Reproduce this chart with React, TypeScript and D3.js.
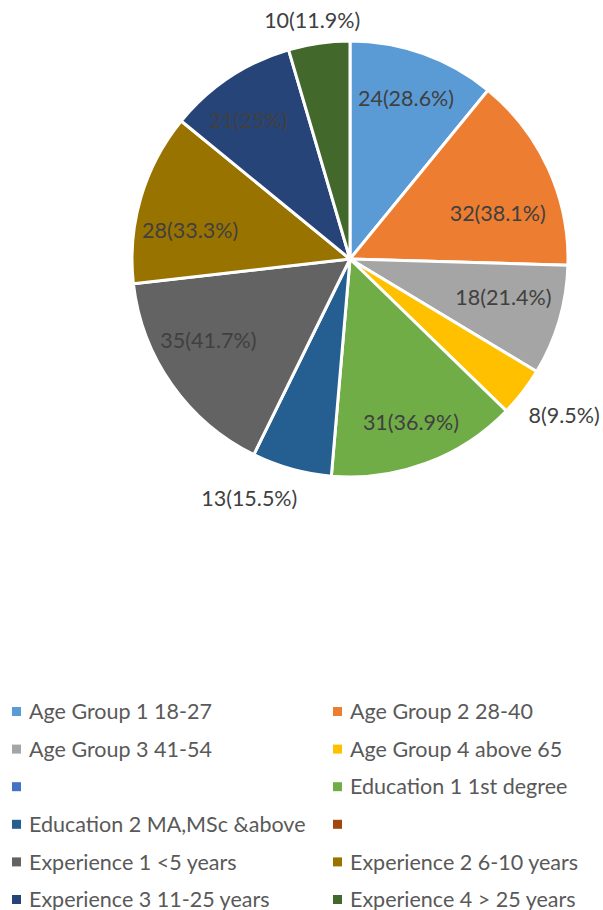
import React from "react";
import * as d3 from "d3";

const categories = [
  "Age Group 1 18-27",
  "Age Group 2 28-40",
  "Age Group 3 41-54",
  "Age Group 4 above 65",
  "",
  "Education 1 1st degree",
  "Education 2 MA,MSc &above",
  "",
  "Experience 1 <5 years",
  "Experience 2 6-10 years",
  "Experience 3 11-25 years",
  "Experience 4 > 25 years",
];
const values = [24, 32, 18, 8, 0, 31, 13, 0, 35, 28, 21, 10];
const sampleSize = 84;
const colors = [
  "#5B9BD5", "#ED7D31", "#A5A5A5", "#FFC000", "#4472C4", "#70AD47",
  "#255E91", "#9E480E", "#636363", "#997300", "#264478", "#43682B",
];

const W = 603;
const H = 910;
const CX = 350;
const CY = 259;
const R = 218;
const FONT = "Lato, 'Open Sans', sans-serif";
const LABEL_FS = 21.5;
const LEGEND_FS = 21.5;

// "best fit" label placement tweaks: [angle offset in degrees, radius as fraction of R]
const labelFit: Record<number, [number, number]> = {
  0: [-0.4, 0.78],
  1: [7.2, 0.71],
  2: [-2.4, 0.725],
  3: [-1.6, 1.215],
  5: [0, 0.8],
  6: [7.3, 1.19],
  8: [5.2, 0.75],
  9: [-6.1, 0.745],
  10: [-2.7, 0.79],
  11: [-0.8, 1.11],
};

function pctText(v: number) {
  return `${v}(${Number(((v / sampleSize) * 100).toFixed(1))}%)`;
}

export default function App() {
  const pie = d3.pie<number>().sort(null).value((d) => d)(values);
  const arc = d3.arc<d3.PieArcDatum<number>>().innerRadius(0).outerRadius(R);

  const labels = pie
    .map((p, i) => {
      if (p.value === 0) return null;
      const text = pctText(p.value);
      const [da, fr] = labelFit[i] || [0, 0.76];
      const mid = (p.startAngle + p.endAngle) / 2 + (da * Math.PI) / 180;
      const r = fr * R;
      return { i, text, x: CX + Math.sin(mid) * r, y: CY - Math.cos(mid) * r };
    })
    .filter(Boolean) as { i: number; text: string; x: number; y: number }[];

  const legendX = [12, 333];
  const legendY0 = 711.5;
  const legendDy = 37.6;

  return (
    <svg
      width={W}
      height={H}
      style={{ position: "absolute", left: 0, top: 0, background: "#fff" }}
      fontFamily={FONT}
    >
      <g transform={`translate(${CX},${CY})`}>
        {pie.map((p, i) =>
          p.value === 0 ? null : (
            <path
              key={i}
              d={arc(p) || ""}
              fill={colors[i]}
              stroke="#fff"
              strokeWidth={3}
              strokeLinejoin="round"
            />
          )
        )}
      </g>
      {labels.map((l) => (
        <text
          key={l.i}
          x={l.x}
          y={l.y + LABEL_FS * 0.36}
          textAnchor="middle"
          fontSize={LABEL_FS}
          fill="#404040"
        >
          {l.text}
        </text>
      ))}
      {categories.map((c, i) => {
        const col = i % 2;
        const row = Math.floor(i / 2);
        const x = legendX[col];
        const y = legendY0 + row * legendDy;
        return (
          <g key={i}>
            <rect x={x} y={y - 4.5} width={9} height={9} fill={colors[i]} />
            <text x={x + 17} y={y + 7.7} fontSize={LEGEND_FS} fill="#595959">
              {c}
            </text>
          </g>
        );
      })}
    </svg>
  );
}
